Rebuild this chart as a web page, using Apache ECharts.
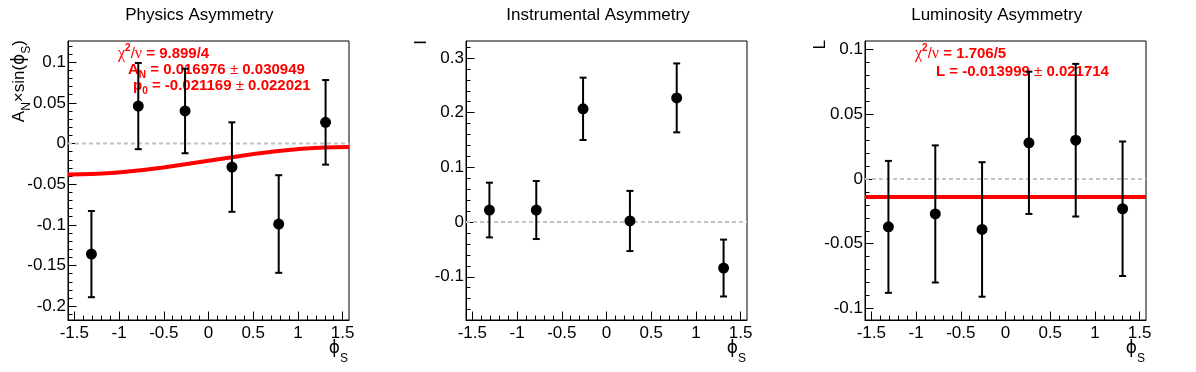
<!DOCTYPE html>
<html>
<head>
<meta charset="utf-8">
<script src="https://cdn.jsdelivr.net/npm/echarts@6/dist/echarts.min.js"></script>
<style>
  html, body { margin: 0; background: #fff; }
  #chart { width: 1196px; height: 372px; }
</style>
</head>
<body>
<div id="chart"></div>
<script>
// phi_S bin centres
const phiS = [-1.309, -0.785, -0.262, 0.262, 0.785, 1.309]

const physY = [-0.136, 0.046, 0.040, -0.029, -0.099, 0.026]
const physErr = [0.053, 0.053, 0.052, 0.055, 0.060, 0.052]
const instY = [0.022, 0.022, 0.207, 0.002, 0.227, -0.084]
const instErr = [0.050, 0.053, 0.057, 0.055, 0.063, 0.052]
const lumiY = [-0.037, -0.027, -0.039, 0.028, 0.030, -0.023]
const lumiErr = [0.051, 0.053, 0.052, 0.055, 0.059, 0.052]

// red fit curve
const fitX = [-1.571, -1.309, -1.047, -0.785, -0.524, -0.262, 0, 0.262, 0.524, 0.785, 1.047, 1.309, 1.571]
const fitY = [-0.0380, -0.0376, -0.0359, -0.0332, -0.0297, -0.0256, -0.0212, -0.0168, -0.0127, -0.0092, -0.0065, -0.0048, -0.0042]
const lumiFit = -0.014

const xTicks = [-1.5, -1, -0.5, 0, 0.5, 1, 1.5]
const physTicks = [-0.2, -0.15, -0.1, -0.05, 0, 0.05, 0.1]
const instTicks = [-0.1, 0, 0.1, 0.2, 0.3]
const lumiTicks = [-0.1, -0.05, 0, 0.05, 0.1]

const titles = ['Physics Asymmetry', 'Instrumental Asymmetry', 'Luminosity Asymmetry']

const FONT = '"Liberation Sans", Arial, Helvetica, sans-serif'
const SERIF = '"Liberation Serif", "Times New Roman", serif'
const PHI_FONT = '"DejaVu Sans", sans-serif'
const RED = '#ff0000'
const XMIN = -Math.PI / 2
const XMAX = Math.PI / 2

const range = (a, b, step) => {
  const out = []
  const n = Math.round((b - a) / step)
  for (let i = 0; i <= n; i++) out.push(+(a + i * step).toFixed(4))
  return out
}

const panels = [
  { left: 68, cx: 199.3, ymin: -0.217, ymax: 0.126, ticks: physTicks, minor: range(-0.21, 0.12, 0.01), y: physY, err: physErr, ytx: 19.5 },
  { left: 466, cx: 598, ymin: -0.179, ymax: 0.331, ticks: instTicks, minor: range(-0.16, 0.32, 0.02), y: instY, err: instErr, ytx: 421.5 },
  { left: 865, cx: 996.7, ymin: -0.109, ymax: 0.1067, ticks: lumiTicks, minor: range(-0.1, 0.1, 0.01), y: lumiY, err: lumiErr, ytx: 820.5 },
]
const xMinor = range(-1.5, 1.5, 0.1)

// lay out text pieces (sub/superscripts) side by side
const ctx = document.createElement('canvas').getContext('2d')
function pieces(segs, x, y, opt) {
  let cx = 0
  const children = []
  segs.forEach(s => {
    const fam = s.family || FONT
    const weight = s.bold ? 'bold' : 'normal'
    ctx.font = weight + ' ' + s.size + 'px ' + fam
    children.push({
      type: 'text', x: cx, y: s.dy || 0, silent: true,
      style: {
        text: s.t, fill: opt.color || '#000',
        fontSize: s.size, fontWeight: weight, fontFamily: fam,
        align: 'left', verticalAlign: 'middle', textAlign: 'left', textVerticalAlign: 'middle',
      },
    })
    cx += ctx.measureText(s.t).width
  })
  if (opt.align === 'right') children.forEach(c => { c.x -= cx })
  return { type: 'group', x, y, rotation: opt.rotation || 0, z: 0, children }
}

const grid = [], xAxis = [], yAxis = [], series = []
panels.forEach((p, i) => {
  grid.push({ left: p.left, top: 41, width: 281, height: 279, show: true, borderColor: '#000', borderWidth: 1, outerBoundsMode: 'none' })
  xAxis.push({
    gridIndex: i, type: 'value', position: 'bottom', min: XMIN, max: XMAX,
    axisLine: { show: true, onZero: false, lineStyle: { color: '#000', width: 1 } },
    axisTick: { inside: true, length: 8.5, customValues: xTicks, lineStyle: { color: '#000' } },
    axisLabel: { customValues: xTicks, fontSize: 17, fontFamily: FONT, color: '#000', margin: 5 },
    splitLine: { show: false },
  })
  xAxis.push({
    gridIndex: i, type: 'value', position: 'bottom', min: XMIN, max: XMAX,
    axisLine: { show: false, onZero: false },
    axisTick: { inside: true, length: 4.5, customValues: xMinor, lineStyle: { color: '#000' } },
    axisLabel: { show: false }, splitLine: { show: false },
  })
  yAxis.push({
    gridIndex: i, type: 'value', position: 'left', min: p.ymin, max: p.ymax,
    axisLine: { show: true, onZero: false, lineStyle: { color: '#000', width: 1 } },
    axisTick: { inside: true, length: 8.5, customValues: p.ticks, lineStyle: { color: '#000' } },
    axisLabel: { customValues: p.ticks, fontSize: 17, fontFamily: FONT, color: '#000', margin: 2 },
    splitLine: { show: false },
  })
  yAxis.push({
    gridIndex: i, type: 'value', position: 'left', min: p.ymin, max: p.ymax,
    axisLine: { show: false, onZero: false },
    axisTick: { inside: true, length: 4.5, customValues: p.minor, lineStyle: { color: '#000' } },
    axisLabel: { show: false }, splitLine: { show: false },
  })

  // dashed zero line
  series.push({
    type: 'line', xAxisIndex: 2 * i, yAxisIndex: 2 * i, silent: true, symbol: 'none', z: 1,
    data: [[XMIN, 0], [XMAX, 0]],
    lineStyle: { color: '#c4c4c4', width: 2, type: [4, 3] },
  })
  // error bars
  series.push({
    type: 'custom', xAxisIndex: 2 * i, yAxisIndex: 2 * i, silent: true, z: 3,
    data: phiS.map((x, k) => [x, p.y[k], p.err[k]]),
    encode: { x: 0, y: 1 },
    renderItem: (params, api) => {
      const x = api.value(0), y = api.value(1), e = api.value(2)
      const top = api.coord([x, y + e])
      const bot = api.coord([x, y - e])
      const style = { stroke: '#000', lineWidth: 2 }
      return {
        type: 'group',
        children: [
          { type: 'line', shape: { x1: top[0], y1: top[1], x2: bot[0], y2: bot[1] }, style },
          { type: 'line', shape: { x1: top[0] - 3.5, y1: top[1], x2: top[0] + 3.5, y2: top[1] }, style },
          { type: 'line', shape: { x1: bot[0] - 3.5, y1: bot[1], x2: bot[0] + 3.5, y2: bot[1] }, style },
        ],
      }
    },
  })
  // points
  series.push({
    type: 'scatter', xAxisIndex: 2 * i, yAxisIndex: 2 * i, silent: true, z: 4,
    symbol: 'circle', symbolSize: 11,
    itemStyle: { color: '#000', opacity: 1 },
    data: phiS.map((x, k) => [x, p.y[k]]),
  })
})

// fits
series.push({
  type: 'line', xAxisIndex: 0, yAxisIndex: 0, silent: true, symbol: 'none', z: 2, smooth: 0.3,
  data: fitX.map((x, k) => [x, fitY[k]]),
  lineStyle: { color: RED, width: 4 },
})
series.push({
  type: 'line', xAxisIndex: 4, yAxisIndex: 4, silent: true, symbol: 'none', z: 2,
  data: [[XMIN, lumiFit], [XMAX, lumiFit]],
  lineStyle: { color: RED, width: 4 },
})

const graphic = []
panels.forEach((p, i) => {
  graphic.push({
    type: 'text', x: p.cx, y: 15, silent: true,
    style: { text: titles[i], fontSize: 17, fontFamily: FONT, fill: '#000', align: 'center', verticalAlign: 'middle', textAlign: 'center', textVerticalAlign: 'middle' },
  })
  // x axis title phi_S
  graphic.push(pieces([
    { t: 'ϕ', size: 17, family: PHI_FONT },
    { t: 'S', size: 12, dy: 10 },
  ], p.left + 280, 349, { align: 'right' }))
})

// y axis titles
graphic.push(pieces([
  { t: 'A', size: 17 }, { t: 'N', size: 12, dy: 7 },
  { t: '×sin(', size: 17 }, { t: 'ϕ', size: 17, family: PHI_FONT }, { t: 'S', size: 12, dy: 7 }, { t: ')', size: 17 },
], panels[0].ytx, 40, { align: 'right', rotation: Math.PI / 2 }))
graphic.push(pieces([{ t: 'I', size: 17 }], panels[1].ytx, 40, { align: 'right', rotation: Math.PI / 2 }))
graphic.push(pieces([{ t: 'L', size: 17 }], panels[2].ytx, 40, { align: 'right', rotation: Math.PI / 2 }))

// fit results
const chiSegs = val => [
  { t: 'χ', size: 16, family: SERIF }, { t: '2', size: 10, bold: true, dy: -5 },
  { t: '/', size: 15 }, { t: 'ν', size: 16, family: SERIF },
  { t: ' = ' + val, size: 15, bold: true },
]
graphic.push(pieces(chiSegs('9.899/4'), 118, 53.5, { color: RED }))
graphic.push(pieces([
  { t: 'A', size: 15, bold: true }, { t: 'N', size: 10, bold: true, dy: 5 },
  { t: ' = 0.016976 ', size: 15, bold: true }, { t: '±', size: 15 },
  { t: ' 0.030949', size: 15, bold: true },
], 128, 70, { color: RED }))
graphic.push(pieces([
  { t: 'p', size: 15, bold: true }, { t: '0', size: 10, bold: true, dy: 5 },
  { t: ' = -0.021169 ', size: 15, bold: true }, { t: '±', size: 15 },
  { t: ' 0.022021', size: 15, bold: true },
], 133, 86, { color: RED }))
graphic.push(pieces(chiSegs('1.706/5'), 915, 53.5, { color: RED }))
graphic.push(pieces([
  { t: 'L = -0.013999 ', size: 15, bold: true }, { t: '±', size: 15 },
  { t: ' 0.021714', size: 15, bold: true },
], 936, 72, { color: RED }))

const option = {
  animation: false,
  backgroundColor: '#fff',
  grid, xAxis, yAxis, series, graphic,
}
const myChart = echarts.init(document.getElementById('chart'), null, { renderer: 'canvas' })
option && myChart.setOption(option)
</script>
</body>
</html>
